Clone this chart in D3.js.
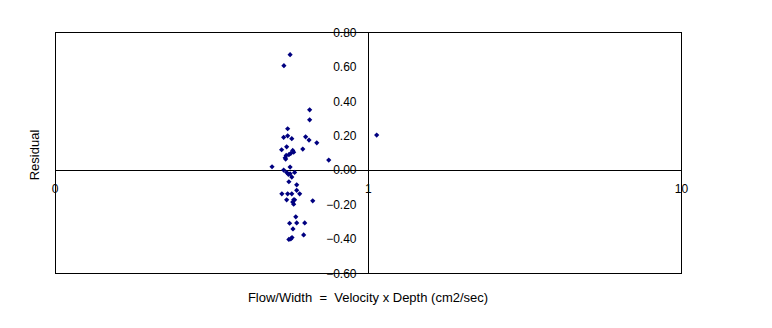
<!DOCTYPE html>
<html><head><meta charset="utf-8">
<script src="https://cdn.jsdelivr.net/npm/d3@7"></script>
<style>body{margin:0;background:#fff}svg{display:block}text{font-family:"Liberation Sans",Arial,sans-serif;font-size:12px;fill:#000}.title{font-size:13px;white-space:pre}</style>
</head><body>
<script>
const flowWidth = [0.553,0.537,0.553,0.570,0.631,0.647,0.685,0.650,0.650,0.529,0.549,0.574,0.578,0.566,0.558,0.547,0.543,0.545,0.618,0.748,0.493,0.563,0.537,0.549,0.563,0.556,0.570,0.582,0.558,0.591,0.530,0.553,0.570,0.591,0.604,0.665,0.549,0.578,0.574,0.582,0.578,0.587,0.561,0.591,0.627,0.575,0.622,0.558,0.566,0.571,0.563,0.538,1.064];
const residual = [0.241,0.191,0.200,0.183,0.194,0.175,0.159,0.293,0.351,0.119,0.136,0.115,0.105,0.098,0.090,0.086,0.072,0.065,0.123,0.059,0.020,0.018,0.001,-0.013,-0.021,-0.024,-0.040,-0.013,-0.067,-0.085,-0.137,-0.137,-0.137,-0.117,-0.137,-0.178,-0.172,-0.172,-0.185,-0.172,-0.197,-0.271,-0.308,-0.306,-0.306,-0.341,-0.376,-0.402,-0.399,-0.391,0.671,0.607,0.204];
const xTicks = [0.1, 1, 10];
const xTickLabels = ["0", "1", "10"];
const yTicks = [-0.6,-0.4,-0.2,0,0.2,0.4,0.6,0.8];
const xTitle = "Flow/Width  =  Velocity x Depth (cm2/sec)";
const yTitle = "Residual";

const W = 772, H = 328;
const svg = d3.select("body").append("svg").attr("width", W).attr("height", H);
const x = d3.scaleLog().domain([0.1, 10]).range([55, 681.5]);
const y = d3.scaleLinear().domain([-0.6, 0.8]).range([273.5, 32.5]);

// plot border
svg.append("rect").attr("x", 55.5).attr("y", 32.5).attr("width", 626).attr("height", 241)
  .attr("fill", "none").attr("stroke", "#000").attr("stroke-width", 1);

// x axis (at y=0)
const y0 = Math.round(y(0)) + 0.5;
svg.append("line").attr("x1", 55).attr("x2", 682).attr("y1", y0).attr("y2", y0).attr("stroke", "#000");
// y axis (at x=1)
const x1 = Math.round(x(1)) + 0.5;
svg.append("line").attr("x1", x1).attr("x2", x1).attr("y1", 32).attr("y2", 274).attr("stroke", "#000");

// y tick labels
svg.append("g").selectAll("text").data(yTicks).join("text")
  .attr("x", x1 - 12).attr("y", d => y(d)).attr("dy", "0.35em")
  .attr("text-anchor", "end").text(d => d3.format(".2f")(d));

// x tick labels
svg.append("g").selectAll("text").data(xTicks).join("text")
  .attr("x", d => x(d)).attr("y", y0 + 18).attr("dy", "0.35em")
  .attr("text-anchor", "middle").text((d, i) => xTickLabels[i]);

// points
const diamond = "M0,-2.6L2.6,0L0,2.6L-2.6,0Z";
svg.append("g").selectAll("path").data(flowWidth.map((v, i) => [v, residual[i]])).join("path")
  .attr("transform", d => `translate(${x(d[0])},${y(d[1])})`)
  .attr("d", diamond).attr("fill", "#000080");

// titles
svg.append("text").attr("class", "title").attr("x", 368).attr("y", 297).attr("dy", "0.35em")
  .attr("text-anchor", "middle").text(xTitle);
svg.append("text").attr("class", "title").attr("transform", "translate(34,155) rotate(-90)").attr("dy", "0.35em")
  .attr("text-anchor", "middle").text(yTitle);
</script>
</body></html>
